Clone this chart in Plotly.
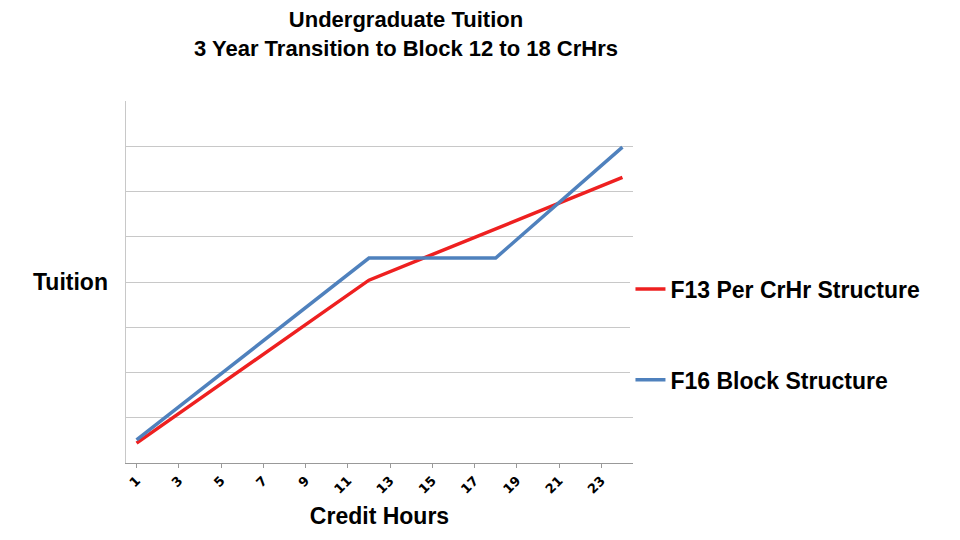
import plotly.graph_objects as go

red_x = [1, 12, 24]
red_y = [0.44, 4.04, 6.31]
blue_x = [1, 12, 18, 24]
blue_y = [0.51, 4.53, 4.53, 6.98]
tick_vals = [1, 3, 5, 7, 9, 11, 13, 15, 17, 19, 21, 23]

F = "Liberation Sans, Arial"
fig = go.Figure()
fig.add_trace(go.Scatter(x=red_x, y=red_y, mode="lines", name="<b>F13 Per CrHr Structure</b>",
                         line=dict(color="#ee2020", width=3.5), legendgroup="a"))
fig.add_trace(go.Scatter(x=blue_x, y=blue_y, mode="lines", name="<b>F16 Block Structure</b>",
                         line=dict(color="#4f81bd", width=3.5), legendgroup="b"))
fig.update_layout(
    width=960, height=540, paper_bgcolor="white", plot_bgcolor="white",
    margin=dict(l=118, r=335, t=93, b=85),
    font=dict(family=F, color="black"),
    title=dict(text="<b>Undergraduate Tuition<br>3 Year Transition to Block 12 to 18 CrHrs</b>",
               x=398/960, xanchor="center", y=0.965, yanchor="top", font=dict(size=22)),
    xaxis=dict(range=[0.5, 24.5], tickvals=tick_vals, tickangle=-45, showgrid=False, automargin=False,
               showline=True, linecolor="#999", ticks="outside", tickcolor="#999", ticklen=4,
               tickfont=dict(size=13, family="DejaVu Sans", weight="bold"),
               title=dict(text="<b>Credit Hours</b>", font=dict(size=23), standoff=12)),
    yaxis=dict(range=[0, 8], dtick=1, showticklabels=False, gridcolor="#c8c8c8", automargin=False,
               showline=True, linecolor="#c8c8c8", zeroline=False),
    legend=dict(x=0.995, y=0.54, xanchor="left", yanchor="top", tracegroupgap=58,
                font=dict(size=23), itemwidth=30),
    annotations=[dict(text="<b>Tuition</b>", xref="paper", yref="paper", x=-0.11, y=0.5,
                      xanchor="center", yanchor="middle", showarrow=False, font=dict(size=23))],
)
fig.write_html("out.html")
